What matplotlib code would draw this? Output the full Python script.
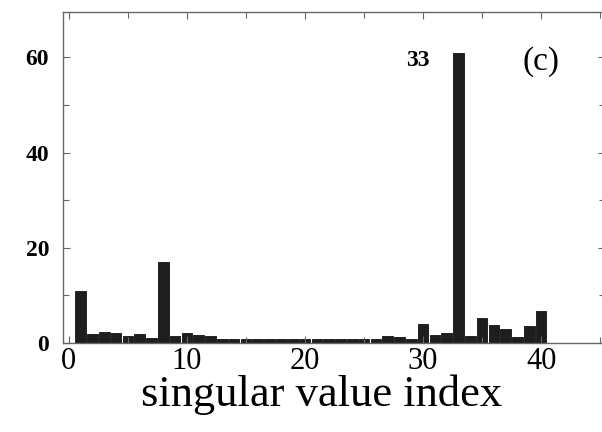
import matplotlib
matplotlib.use("Agg")
import matplotlib.pyplot as plt
import numpy as np

index = list(range(1, 41))
values = [11.0, 1.8, 2.3, 2.2, 1.5, 1.8, 1.0, 17.0, 1.5, 2.0,
          1.6, 1.5, 0.9, 0.9, 0.9, 0.9, 0.9, 0.9, 0.9, 0.9,
          0.9, 0.9, 0.9, 0.9, 0.9, 0.9, 1.5, 1.3, 0.9, 4.0,
          1.7, 2.0, 61.0, 1.5, 5.2, 3.8, 2.9, 1.2, 3.6, 6.7]
xticks_major = [0, 10, 20, 30, 40]
yticks_major = [0, 20, 40, 60]

fig = plt.figure(figsize=(6.02, 4.32), dpi=100)
ax = fig.add_axes([0.1047, 0.206, 0.9, 0.766])

ax.bar(index, values, width=0.9, color="#1e1e1e", edgecolor="#111111", linewidth=0.6)

ax.set_xlim(-0.5, 45.4)
ax.set_ylim(0, 69.5)

serif = ["Liberation Serif", "DejaVu Serif"]
ax.set_xticks(xticks_major)
ax.set_xticks(np.arange(0, 46, 5), minor=True)
ax.set_yticks(yticks_major)
ax.set_yticks(np.arange(0, 70, 10), minor=True)
ax.set_xticklabels([str(t) for t in xticks_major], fontfamily=serif, fontsize=22)
ax.set_yticklabels([str(t) for t in yticks_major], fontfamily=serif, fontweight="bold", fontsize=17)
ax.tick_params(axis="both", which="both", direction="in", top=True, right=True,
               color="#666666", width=0.8)
ax.tick_params(axis="both", which="major", length=5)
ax.tick_params(axis="both", which="minor", length=4)
ax.tick_params(axis="x", pad=3)
ax.tick_params(axis="y", pad=10)

for s in ax.spines.values():
    s.set_color("#666666")
    s.set_linewidth(1.0)

ax.set_xlabel("singular value index", fontfamily=serif, fontsize=32, labelpad=-1)
ax.xaxis.label.set_x(0.478)

ax.text(0.655, 0.855, "33", transform=ax.transAxes, fontfamily=serif,
        fontweight="bold", fontsize=17, ha="center", va="center")
ax.text(0.882, 0.85, "(c)", transform=ax.transAxes, fontfamily=serif,
        fontsize=24, ha="center", va="center")

fig.savefig("out.png", dpi=100)
